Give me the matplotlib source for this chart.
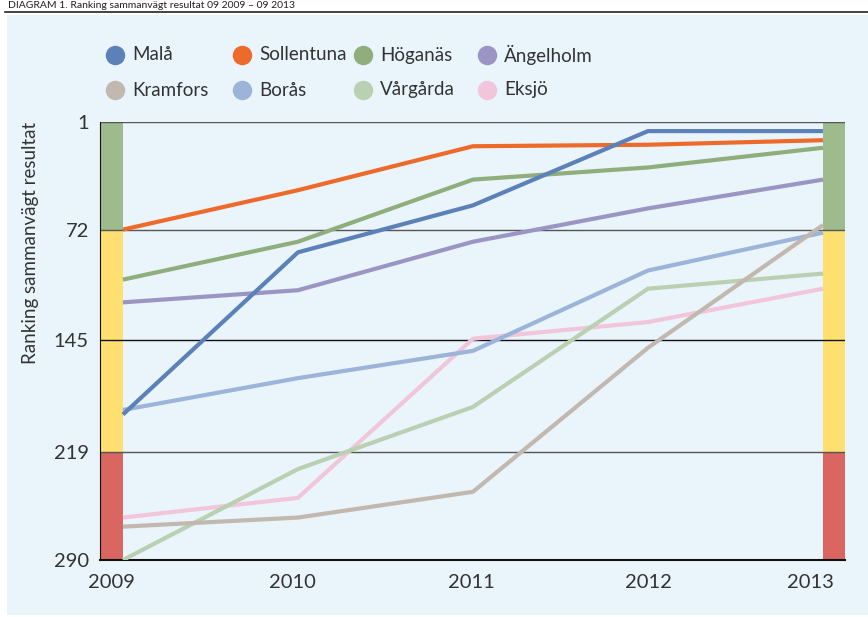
import matplotlib.pyplot as plt
from matplotlib.patches import Rectangle
from matplotlib.lines import Line2D

plt.rcParams['font.family'] = ['Lato', 'DejaVu Sans']

years = ['2009', '2010', '2011', '2012', '2013']
names = ['Malå', 'Sollentuna', 'Höganäs', 'Ängelholm',
         'Kramfors', 'Borås', 'Vårgårda', 'Eksjö']
colors = ['#5b81b8', '#ee6a2a', '#8fae7b', '#9a95c2',
          '#c1b8b0', '#9bb4d8', '#b9d1b2', '#f1c6da']

mala = [194, 87, 56, 7, 7]
sollentuna = [72, 46, 17, 16, 13]
hoganas = [105, 80, 39, 31, 18]
angelholm = [120, 112, 80, 58, 39]
kramfors = [268, 262, 245, 150, 69]
boras = [191, 170, 152, 99, 74]
vargarda = [290, 230, 189, 111, 101]
eksjo = [262, 249, 144, 133, 111]
series = [mala, sollentuna, hoganas, angelholm, kramfors, boras, vargarda, eksjo]

yticks = [1, 72, 145, 219, 290]
bands = [(1, 72, '#9dbb8c'), (72, 219, '#fde070'), (219, 290, '#d96660')]

W, H = 868, 617
fig = plt.figure(figsize=(W / 100, H / 100), dpi=100)
fig.patch.set_facecolor('white')

# light blue panel and top rule
fig.add_artist(Rectangle((7 / W, 2 / H), 861 / W, 600 / H,
                         transform=fig.transFigure, facecolor='#eaf4fb',
                         edgecolor='none', zorder=0))
fig.add_artist(Line2D([5 / W, 1], [1 - 12 / H, 1 - 12 / H],
                      transform=fig.transFigure, color='#222222', lw=1.2))
fig.text(8 / W, 1 - 1 / H, 'DIAGRAM 1. Ranking sammanvägt resultat 09 2009 – 09 2013',
         fontsize=7.5, color='#222222', va='top', ha='left')

ax = fig.add_axes([100 / W, 1 - 560 / H, 745 / W, 438 / H])
ax.set_facecolor('none')

xl, xr = -0.131, 4.126
ax.set_xlim(xl, xr)
ax.set_ylim(290, 1)

for lo, hi, c in bands:
    ax.axhspan(lo, hi, xmin=0, xmax=(0 - xl) / (xr - xl), color=c, lw=0, zorder=1)
    ax.axhspan(lo, hi, xmin=(4 - xl) / (xr - xl), xmax=1, color=c, lw=0, zorder=1)

for v, c in [(1, '#555555'), (72, '#555555'), (145, '#111111'), (219, '#555555')]:
    ax.axhline(v, color=c, lw=1, zorder=2)

x = list(range(len(years)))
for s, c in reversed(list(zip(series, colors))):
    ax.plot(x, s, color=c, lw=3, solid_capstyle='butt', zorder=3)

for sp in ['top', 'right']:
    ax.spines[sp].set_visible(False)
ax.spines['left'].set_color('#111111')
ax.spines['bottom'].set_color('#111111')
ax.spines['bottom'].set_linewidth(1.5)

ax.set_yticks(yticks)
ax.set_yticklabels([str(t) for t in yticks], fontsize=14.5, color='#333333')
ax.set_xticks([-0.065, 0.97, 1.99, 3.0, 3.93])
ax.set_xticklabels(years, fontsize=14.5, color='#333333')
ax.tick_params(length=0)
ax.tick_params(axis='y', pad=8)
ax.tick_params(axis='x', pad=10)
ax.set_ylabel('Ranking sammanvägt resultat', fontsize=13.5, color='#333333', loc='top')
ax.yaxis.set_label_coords(-61 / 745, 1)

# legend drawn by hand, 4 columns x 2 rows
col_x = [115, 242, 363, 487]
row_y = [55, 90]
for i, (n, c) in enumerate(zip(names, colors)):
    cx = col_x[i % 4]
    cy = row_y[i // 4]
    fig.add_artist(Line2D([cx / W], [1 - cy / H], marker='o', ms=14, color=c,
                          mec='none', transform=fig.transFigure))
    fig.text((cx + 17) / W, 1 - cy / H, n, fontsize=13.5, color='#333333',
             va='center', ha='left')

fig.savefig('out.png', dpi=100)
